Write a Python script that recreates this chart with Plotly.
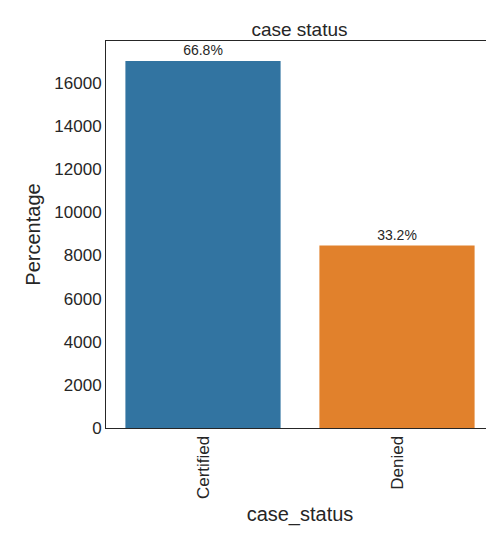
import plotly.graph_objects as go

categories = ["Certified", "Denied"]
counts = [17018, 8462]
labels = ["66.8%", "33.2%"]
colors = ["#3274a1", "#e1812c"]

fig = go.Figure()
fig.add_trace(go.Bar(
    x=categories, y=counts, width=0.8,
    marker=dict(color=colors, line=dict(width=0)),
    text=labels, textposition="outside", cliponaxis=False,
    textfont=dict(size=14, color="#262626"),
))

fig.update_layout(
    width=494, height=535,
    margin=dict(l=98, r=8, t=33, b=115),
    plot_bgcolor="white", paper_bgcolor="white",
    font=dict(family="Liberation Sans, Arial", color="#262626", size=17),
    title=dict(text="case status", x=0.59, xanchor="center",
               yref="paper", y=1, yanchor="bottom", pad=dict(b=5), font=dict(size=19)),
    showlegend=False,
    uniformtext=dict(mode=False),
)
fig.update_xaxes(
    title=dict(text="case_status", standoff=8), tickangle=-90,
    showline=True, linecolor="#262626", mirror=True, linewidth=1,
    ticks="", range=[-0.5, 1.5],
)
fig.update_yaxes(
    title=dict(text="Percentage", standoff=8), range=[0, 17950],
    tickvals=[0, 2000, 4000, 6000, 8000, 10000, 12000, 14000, 16000],
    tickformat="d",
    showgrid=False, zeroline=False,
    showline=True, linecolor="#262626", mirror=True, linewidth=1,
)

fig.write_html("out.html")
